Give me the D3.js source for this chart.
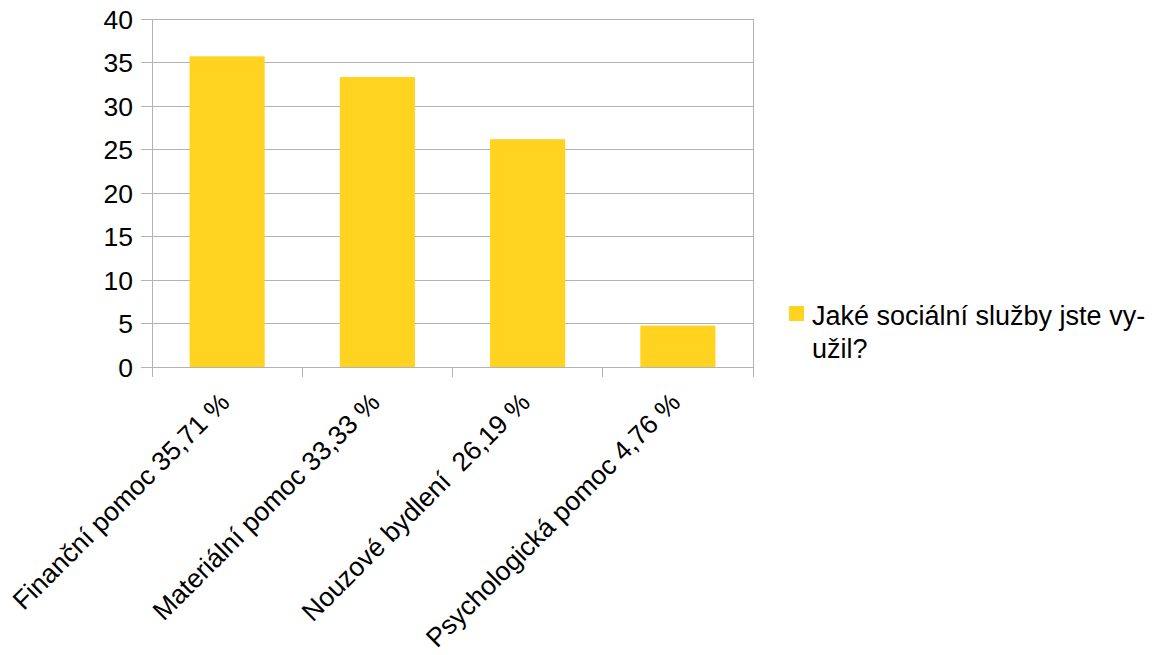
<!DOCTYPE html>
<html><head><meta charset="utf-8">
<script src="https://cdn.jsdelivr.net/npm/d3@7"></script>
<style>
body{margin:0;background:#fff;}
text{font-family:"Liberation Sans",Arial,sans-serif;fill:#000;}
</style></head><body>
<svg id="c" width="1165" height="655"></svg>
<script>
const categories = ["Finanční pomoc 35,71 %", "Materiální pomoc 33,33 %", "Nouzové bydlení  26,19 %", "Psychologická pomoc 4,76 %"];
const values = [35.71, 33.33, 26.19, 4.76];
const yTicks = [0, 5, 10, 15, 20, 25, 30, 35, 40];
const legendLines = ["Jaké sociální služby jste vy-", "užil?"];

(function(){
const svg = d3.select("#c");
const pL = 152, pR = 753, pT = 19, pB = 367;
const x = d3.scaleBand().domain(categories).range([pL, pR]).paddingInner(0.5).paddingOuter(0.25);
const xb = d3.scaleBand().domain(categories).range([pL, pR]);
const y = d3.scaleLinear().domain([0, 40]).range([pB, pT]);
const gridColor = "#b3b3b3";

svg.append("g").selectAll("line").data(yTicks).join("line")
  .attr("x1", pL - 11).attr("x2", pR)
  .attr("y1", d => y(d)).attr("y2", d => y(d))
  .attr("stroke", gridColor).attr("stroke-width", 1).attr("shape-rendering","crispEdges");
svg.append("line").attr("x1", pL).attr("x2", pL).attr("y1", pT).attr("y2", pB + 10)
  .attr("stroke", gridColor).attr("shape-rendering","crispEdges");
svg.append("line").attr("x1", pR).attr("x2", pR).attr("y1", pT).attr("y2", pB + 10)
  .attr("stroke", gridColor).attr("shape-rendering","crispEdges");
svg.append("g").selectAll("line").data(categories.slice(1)).join("line")
  .attr("x1", d => xb(d)).attr("x2", d => xb(d))
  .attr("y1", pB).attr("y2", pB + 10)
  .attr("stroke", gridColor).attr("shape-rendering","crispEdges");

svg.append("g").selectAll("rect").data(values).join("rect")
  .attr("x", (d, i) => x(categories[i]))
  .attr("width", x.bandwidth())
  .attr("y", d => y(d))
  .attr("height", d => y(0) - y(d))
  .attr("fill", "#ffd320");

svg.append("g").selectAll("text").data(yTicks).join("text")
  .attr("x", pL - 19).attr("y", d => y(d))
  .attr("dy", "0.36em").attr("text-anchor", "end")
  .style("font-size", "26.5px").text(d => d);

svg.append("g").selectAll("text").data(categories).join("text")
  .attr("transform", d => `translate(${xb(d) + xb.bandwidth()/2 + 4},${pB + 37}) rotate(-45)`)
  .attr("text-anchor", "end")
  .style("font-size", "26.5px").style("white-space", "pre")
  .text(d => d);

svg.append("rect").attr("x", 789).attr("y", 306).attr("width", 15).attr("height", 15).attr("fill", "#ffd320");
svg.append("g").selectAll("text").data(legendLines).join("text")
  .attr("x", 812).attr("y", (d, i) => 325 + i * 33)
  .style("font-size", "27px").text(d => d);
})();
</script>
</body></html>
